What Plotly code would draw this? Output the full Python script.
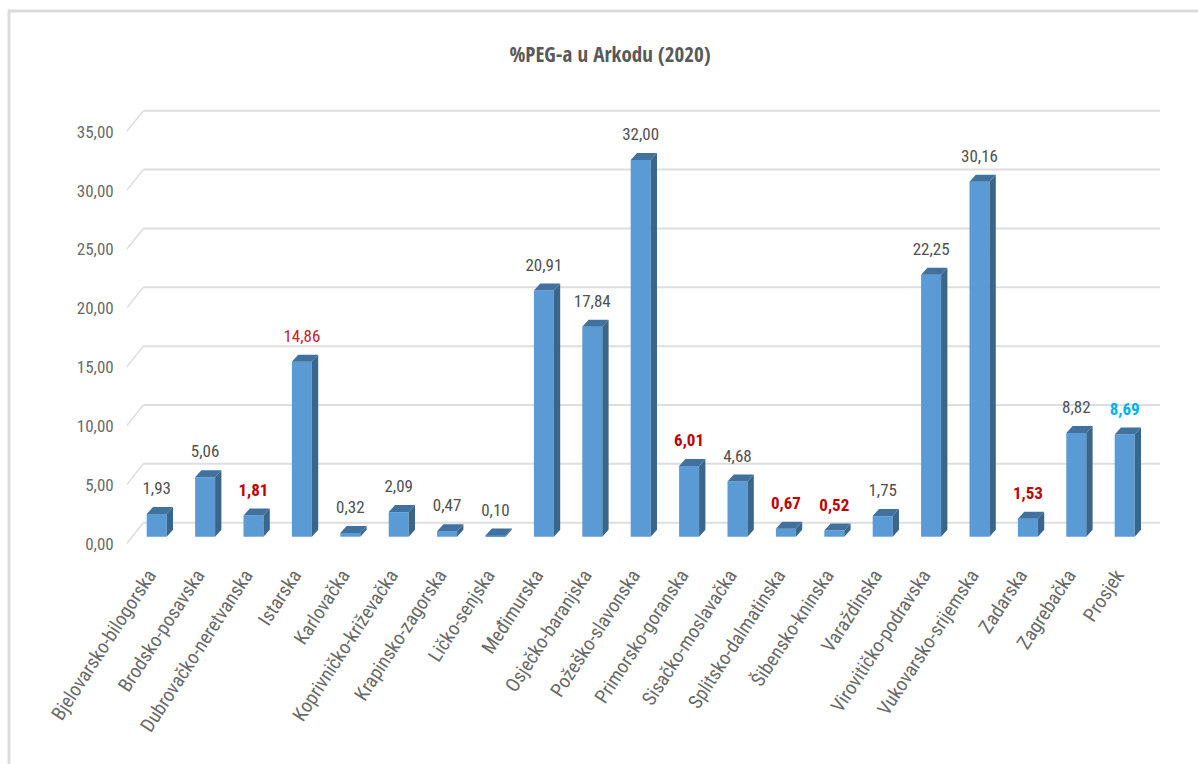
import plotly.graph_objects as go

categories = ["Bjelovarsko-bilogorska", "Brodsko-posavska", "Dubrovačko-neretvanska", "Istarska", "Karlovačka",
              "Koprivničko-križevačka", "Krapinsko-zagorska", "Ličko-senjska", "Međimurska", "Osječko-baranjska",
              "Požeško-slavonska", "Primorsko-goranska", "Sisačko-moslavačka", "Splitsko-dalmatinska",
              "Šibensko-kninska", "Varaždinska", "Virovitičko-podravska", "Vukovarsko-srijemska", "Zadarska",
              "Zagrebačka", "Prosjek"]
values = [1.93, 5.06, 1.81, 14.86, 0.32, 2.09, 0.47, 0.10, 20.91, 17.84, 32.00, 6.01, 4.68, 0.67, 0.52, 1.75,
          22.25, 30.16, 1.53, 8.82, 8.69]
red_bold = ["Dubrovačko-neretvanska", "Primorsko-goranska", "Splitsko-dalmatinska", "Šibensko-kninska", "Zadarska"]
red_plain = ["Istarska"]
blue_bold = ["Prosjek"]
y_ticks = [0, 5, 10, 15, 20, 25, 30, 35]

FONT = "Roboto Condensed, Liberation Sans, sans-serif"
TITLE_FONT = "Open Sans Condensed, Roboto Condensed, sans-serif"
W, H = 1198, 764
L, R, T, B = 126.7, 1160.0, 100.0, 546.0
ZERO_PX, PX_PER_UNIT = 536.7, 11.77
FIRST_PX, STEP_PX = 156.7, 48.4
BAR_W = 20 / STEP_PX
DX, DY = 6.3 / STEP_PX, 7 / PX_PER_UNIT
GRID_BACK = 14 / PX_PER_UNIT
GRID_FRONT = -6.8 / PX_PER_UNIT
xmin, xmax = (L - FIRST_PX) / STEP_PX, (R - FIRST_PX) / STEP_PX
ymin, ymax = (ZERO_PX - B) / PX_PER_UNIT, (ZERO_PX - T) / PX_PER_UNIT
xback = (143.3 - FIRST_PX) / STEP_PX

idx = list(range(len(categories)))
fig = go.Figure()
fig.add_bar(x=idx, y=values, width=BAR_W, marker=dict(color="#5B9BD5", line=dict(width=0)), hoverinfo="skip")

side_x, side_y, top_x, top_y = [], [], [], []
for i, v in zip(idx, values):
    xr = i + BAR_W / 2
    xl = i - BAR_W / 2
    side_x += [xr, xr + DX, xr + DX, xr, xr, None]
    side_y += [0, DY, v + DY, v, 0, None]
    top_x += [xl, xr, xr + DX, xl + DX, xl, None]
    top_y += [v, v, v + DY, v + DY, v, None]
fig.add_scatter(x=side_x, y=side_y, mode="none", fill="toself", fillcolor="#3A6689", hoverinfo="skip")
fig.add_scatter(x=top_x, y=top_y, mode="none", fill="toself", fillcolor="#41729F", hoverinfo="skip")

labels, colors = [], []
for c, v in zip(categories, values):
    s = f"{v:.2f}".replace(".", ",")
    if c in red_bold:
        labels.append(f"<b>{s}</b>"); colors.append("#C00000")
    elif c in red_plain:
        labels.append(s); colors.append("#C8202A")
    elif c in blue_bold:
        labels.append(f"<b>{s}</b>"); colors.append("#00B0F0")
    else:
        labels.append(s); colors.append("#505050")
fig.add_scatter(x=idx, y=[v + 24 / PX_PER_UNIT for v in values], mode="text", text=labels,
                textposition="middle center", textfont=dict(family=FONT, size=17, color=colors), hoverinfo="skip")

shapes = []
for t in y_ticks:
    shapes.append(dict(type="line", xref="x", yref="y", layer="below", x0=xmin, y0=t + GRID_FRONT,
                       x1=xback, y1=t + GRID_BACK, line=dict(color="#DEDEDE", width=1.5)))
    shapes.append(dict(type="line", xref="x", yref="y", layer="below", x0=xback, y0=t + GRID_BACK,
                       x1=xmax, y1=t + GRID_BACK, line=dict(color="#DEDEDE", width=2)))
# outer frame of the picture
shapes.append(dict(type="line", xref="paper", yref="paper", x0=8 / W, x1=1, y0=1 - 11 / H, y1=1 - 11 / H,
                   line=dict(color="#DCDCDC", width=3)))
shapes.append(dict(type="line", xref="paper", yref="paper", x0=9 / W, x1=9 / W, y0=0, y1=1 - 11 / H,
                   line=dict(color="#DCDCDC", width=3)))

fig.update_layout(
    width=W, height=H, margin=dict(l=0, r=0, t=0, b=0, autoexpand=False),
    paper_bgcolor="white", plot_bgcolor="rgba(0,0,0,0)", showlegend=False,
    shapes=shapes,
    title=dict(text="%PEG-a u Arkodu (2020)", x=610 / W, xanchor="center", y=1 - 55 / H, yanchor="middle",
               font=dict(family=TITLE_FONT, size=21, color="#595959")),
    xaxis=dict(domain=[L / W, R / W], range=[xmin, xmax], tickmode="array", tickvals=idx, ticktext=categories,
               tickangle=-57, showgrid=False, zeroline=False, showline=False, ticks="", ticklabelstandoff=13,
               ticklabelshift=-8, tickfont=dict(family=FONT, size=19.5, color="#6A6A6A")),
    yaxis=dict(domain=[1 - B / H, 1 - T / H], range=[ymin, ymax], tickmode="array", tickvals=y_ticks,
               ticktext=[f"{t:.2f}".replace(".", ",") for t in y_ticks], showgrid=False, zeroline=False,
               showline=False, ticks="", ticklabelshift=7, ticklabelstandoff=12,
               tickfont=dict(family=FONT, size=17, color="#6A6A6A")),
)
fig.write_html("out.html", config=dict(displayModeBar=False), post_script="document.body.style.margin='0';")
